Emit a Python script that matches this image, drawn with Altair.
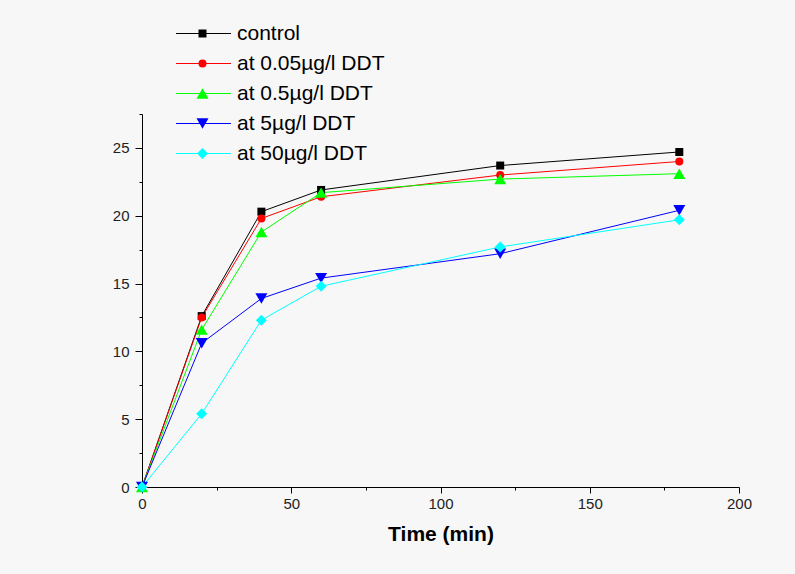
import altair as alt
import pandas as pd

# ---- data ----
time_min = [0, 20, 40, 60, 120, 180]
series_names = ["control", "at 0.05µg/l DDT", "at 0.5µg/l DDT", "at 5µg/l DDT", "at 50µg/l DDT"]
marker_keys = ["m0", "m1", "m2", "m3", "m4"]
control = [0, 12.6, 20.3, 21.9, 23.7, 24.7]
ddt_005 = [0, 12.5, 19.8, 21.4, 23.0, 24.0]
ddt_05 = [0, 11.6, 18.8, 21.7, 22.7, 23.1]
ddt_5 = [0, 10.6, 13.9, 15.4, 17.2, 20.4]
ddt_50 = [0, 5.4, 12.3, 14.8, 17.7, 19.7]

x_major = [0, 50, 100, 150, 200]
x_minor = [25, 75, 125, 175]
y_major = [0, 5, 10, 15, 20, 25]
y_minor = [2.5, 7.5, 12.5, 17.5, 22.5, 27.5]

colors = ["#000000", "#ff0000", "#00ff00", "#0000ff", "#00ffff"]
shapes = ["square", "circle", "triangle-up", "triangle-down", "diamond"]
sizes = [64, 64, 144, 144, 121]

all_values = [control, ddt_005, ddt_05, ddt_5, ddt_50]
rows = []
for name, key, vals in zip(series_names, marker_keys, all_values):
    for t, v in zip(time_min, vals):
        rows.append({"time": t, "value": v, "series": name, "marker": key})
df = pd.DataFrame(rows)

FONT = "Liberation Sans"

x_scale = alt.Scale(domain=[0, 200], nice=False, zero=False)
y_scale = alt.Scale(domain=[0, 27.5], nice=False, zero=False)

leg_lines = alt.Legend(
    orient="none", legendX=51, legendY=-91, title=None, padding=0,
    symbolType="M-5,0H5", symbolSize=121, symbolStrokeWidth=1,
    labelFont=FONT, labelFontSize=21, labelColor="#000000",
    labelOffset=23, rowPadding=8,
)
leg_shapes = alt.Legend(
    orient="none", legendX=50, legendY=-91, title=None, padding=0,
    symbolStrokeWidth=0, labelFont=FONT, labelFontSize=21,
    labelExpr="''", labelOffset=0, rowPadding=8,
)

axis_common = dict(
    domainColor="#000000", domainWidth=1, tickColor="#000000", tickWidth=1,
    labelFont=FONT, labelFontSize=15, labelColor="#222222", grid=False,
    labelFlush=False,
)

lines = alt.Chart(df).mark_line(strokeWidth=1).encode(
    x=alt.X("time:Q", scale=x_scale,
            axis=alt.Axis(values=x_major, orient="bottom", tickSize=6, labelPadding=3,
                          title="Time (min)", titleFont=FONT, titleFontSize=21,
                          titleFontWeight="bold", titleColor="#000000", titlePadding=12,
                          format="d", **axis_common)),
    y=alt.Y("value:Q", scale=y_scale,
            axis=alt.Axis(values=y_major, orient="left", tickSize=7, labelPadding=6,
                          title=None, format="d", **axis_common)),
    color=alt.Color("series:N", scale=alt.Scale(domain=series_names, range=colors),
                    legend=leg_lines),
    order=alt.Order("time:Q"),
)

points = alt.Chart(df).mark_point(filled=True, opacity=1, strokeWidth=0).encode(
    x=alt.X("time:Q", axis=None),
    y=alt.Y("value:Q", axis=None),
    shape=alt.Shape("marker:N", scale=alt.Scale(domain=marker_keys, range=shapes),
                    legend=leg_shapes),
    fill=alt.Fill("marker:N", scale=alt.Scale(domain=marker_keys, range=colors),
                  legend=leg_shapes),
    size=alt.Size("marker:N",
                  scale=alt.Scale(type="ordinal", domain=marker_keys, range=sizes),
                  legend=leg_shapes),
)

minor = alt.Chart(df).mark_point(opacity=0).encode(
    x=alt.X("time:Q",
            axis=alt.Axis(values=x_minor, orient="bottom", tickSize=3, labels=False,
                          domain=False, title=None, ticks=True, tickColor="#000000",
                          grid=False)),
    y=alt.Y("value:Q",
            axis=alt.Axis(values=y_minor, orient="left", tickSize=3, labels=False,
                          domain=False, title=None, ticks=True, tickColor="#000000",
                          grid=False)),
)

chart = alt.layer(lines, points, minor).resolve_axis(
    x="independent", y="independent"
).properties(
    width=597, height=373,
    padding={"left": 142, "top": 114, "right": 56, "bottom": 87},
    autosize=alt.AutoSizeParams(type="none"),
    background="#f7f7f7",
).configure_view(stroke=None)

chart.save("out.html", embed_options={"renderer": "svg", "actions": False})
